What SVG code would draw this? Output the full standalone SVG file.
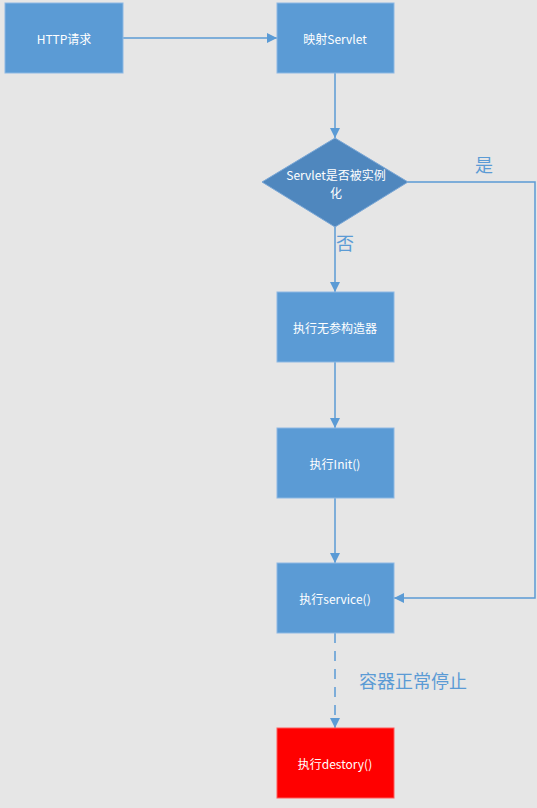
<svg xmlns="http://www.w3.org/2000/svg" width="537" height="808" viewBox="0 0 537 808">
<defs>
<marker id="ah" viewBox="0 0 10 10" refX="10" refY="5" markerWidth="10" markerHeight="10" markerUnits="userSpaceOnUse" orient="auto">
<path d="M0,0 L10,5 L0,10 z" fill="#5b9bd5"/>
</marker>
</defs>
<style>
.box{fill:#5b9bd5;stroke:#8db8e3;stroke-width:1}
.t{font-family:"Noto Sans CJK SC","Noto Sans",sans-serif;font-size:12px;fill:#ffffff;text-anchor:middle;dominant-baseline:central}
.c{fill:none;stroke:#5b9bd5;stroke-width:1.5}
.lbl{font-family:"Noto Sans CJK SC",sans-serif;font-size:18px;fill:#5b9bd5}
</style>
<rect width="537" height="808" fill="#e6e6e6"/>
<g id="connectors">
<line class="c" x1="123" y1="38" x2="277" y2="38" marker-end="url(#ah)"/>
<line class="c" x1="335" y1="73" x2="335" y2="138" marker-end="url(#ah)"/>
<line class="c" x1="335" y1="227" x2="335" y2="292" marker-end="url(#ah)"/>
<line class="c" x1="335" y1="362" x2="335" y2="428" marker-end="url(#ah)"/>
<line class="c" x1="335" y1="498" x2="335" y2="563" marker-end="url(#ah)"/>
<polyline class="c" points="408,182 535,182 535,598 394,598" marker-end="url(#ah)"/>
<line class="c" x1="335" y1="633" x2="335" y2="728" stroke-dasharray="10,8" marker-end="url(#ah)"/>
<text class="lbl" x="484" y="172" text-anchor="middle">是</text>
<text class="lbl" x="345" y="250" text-anchor="middle">否</text>
<text class="lbl" x="413" y="688" text-anchor="middle" font-size="20">容器正常停止</text>
</g>
<g id="http"><rect class="box" x="5" y="3" width="118" height="70"/><text class="t" x="64" y="38">HTTP请求</text></g>
<g id="map"><rect class="box" x="277" y="3" width="117" height="70"/><text class="t" x="335" y="38">映射Servlet</text></g>
<g id="decision"><polygon points="335,138 408,182 335,227 262,182" fill="#4f87be" stroke="#7aa7d6" stroke-width="1"/><text class="t" x="336" y="174">Servlet是否被实例</text><text class="t" x="336" y="192">化</text></g>
<g id="ctor"><rect class="box" x="277" y="292" width="117" height="70"/><text class="t" x="335" y="327">执行无参构造器</text></g>
<g id="init"><rect class="box" x="277" y="428" width="117" height="70"/><text class="t" x="335" y="463">执行Init()</text></g>
<g id="service"><rect class="box" x="277" y="563" width="117" height="70"/><text class="t" x="335" y="598">执行service()</text></g>
<g id="destroy"><rect x="277" y="728" width="117" height="70" fill="#ff0000" stroke="#ff5a5a" stroke-width="1"/><text class="t" x="335" y="763">执行destory()</text></g>
</svg>
